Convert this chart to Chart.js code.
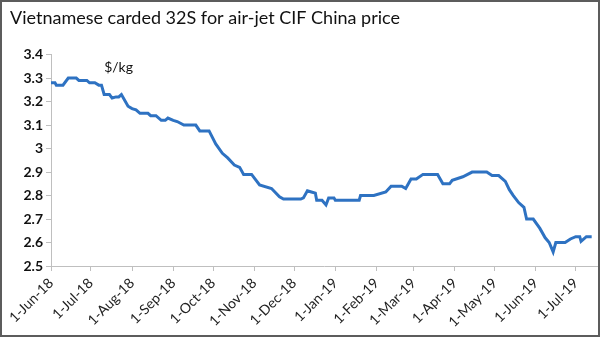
<!DOCTYPE html>
<html>
<head>
<meta charset="utf-8">
<script src="https://cdn.jsdelivr.net/npm/chart.js@4"></script>
<style>
  body { margin: 0; background: #fff; }
  #wrap { position: relative; width: 600px; height: 337px; }
  #frame { position: absolute; left: 0; top: 0; width: 600px; height: 337px; box-sizing: border-box; border: 2px solid #5c5c5c; pointer-events: none; }
</style>
</head>
<body>
<div id="wrap">
  <canvas id="chart" width="600" height="337"></canvas>
  <div id="frame"></div>
</div>
<script>
const chartTitle = 'Vietnamese carded 32S for air-jet CIF China price';
const unitLabel = '$/kg';

const priceDates = [
  '2018-06-01', '2018-06-04', '2018-06-05', '2018-06-10', '2018-06-14', '2018-06-20',
  '2018-06-22', '2018-06-28', '2018-06-30', '2018-07-04', '2018-07-07', '2018-07-09',
  '2018-07-11', '2018-07-15', '2018-07-17', '2018-07-20', '2018-07-22', '2018-07-24',
  '2018-07-29', '2018-08-01', '2018-08-04', '2018-08-07', '2018-08-13', '2018-08-15',
  '2018-08-19', '2018-08-23', '2018-08-26', '2018-08-28', '2018-09-01', '2018-09-04',
  '2018-09-09', '2018-09-18', '2018-09-21', '2018-09-28', '2018-10-03', '2018-10-08',
  '2018-10-12', '2018-10-17', '2018-10-21', '2018-10-24', '2018-10-30', '2018-11-05',
  '2018-11-14', '2018-11-20', '2018-11-23', '2018-12-06', '2018-12-08', '2018-12-11',
  '2018-12-14', '2018-12-17', '2018-12-18', '2018-12-22', '2018-12-25', '2018-12-27',
  '2018-12-31', '2019-01-01', '2019-01-19', '2019-01-20', '2019-01-30', '2019-02-08',
  '2019-02-12', '2019-02-20', '2019-02-23', '2019-02-27', '2019-03-03', '2019-03-08',
  '2019-03-19', '2019-03-23', '2019-03-28', '2019-03-30', '2019-04-07', '2019-04-14',
  '2019-04-25', '2019-04-29', '2019-05-04', '2019-05-09', '2019-05-12', '2019-05-15',
  '2019-05-19', '2019-05-23', '2019-05-25', '2019-05-30', '2019-06-04', '2019-06-08',
  '2019-06-11', '2019-06-14', '2019-06-16', '2019-06-23', '2019-06-27', '2019-07-01',
  '2019-07-04', '2019-07-05', '2019-07-09', '2019-07-13'
];
const prices = [
  3.28, 3.28, 3.27, 3.27, 3.30, 3.30,
  3.29, 3.29, 3.28, 3.28, 3.27, 3.27,
  3.23, 3.23, 3.215, 3.22, 3.22, 3.23,
  3.18, 3.17, 3.165, 3.15, 3.15, 3.14,
  3.14, 3.12, 3.12, 3.13, 3.12, 3.115,
  3.10, 3.10, 3.075, 3.075, 3.02, 2.98,
  2.96, 2.93, 2.92, 2.89, 2.89, 2.845,
  2.83, 2.795, 2.785, 2.785, 2.79, 2.82,
  2.815, 2.81, 2.78, 2.78, 2.76, 2.79,
  2.79, 2.78, 2.78, 2.80, 2.80, 2.815,
  2.84, 2.84, 2.83, 2.87, 2.87, 2.89,
  2.89, 2.85, 2.85, 2.865, 2.88, 2.90,
  2.90, 2.885, 2.885, 2.86, 2.825, 2.80,
  2.77, 2.75, 2.70, 2.70, 2.66, 2.62,
  2.60, 2.56, 2.60, 2.60, 2.615, 2.625,
  2.625, 2.605, 2.625, 2.625
];

const tickDates = [
  '2018-06-01', '2018-07-01', '2018-08-01', '2018-09-01', '2018-10-01', '2018-11-01', '2018-12-01',
  '2019-01-01', '2019-02-01', '2019-03-01', '2019-04-01', '2019-05-01', '2019-06-01', '2019-07-01'
];
const tickLabels = [
  '1-Jun-18', '1-Jul-18', '1-Aug-18', '1-Sep-18', '1-Oct-18', '1-Nov-18', '1-Dec-18',
  '1-Jan-19', '1-Feb-19', '1-Mar-19', '1-Apr-19', '1-May-19', '1-Jun-19', '1-Jul-19'
];
const axisEndDate = '2019-07-17';

// days since the first date, so a plain linear axis can do the date spacing
const dayMs = 24 * 3600 * 1000;
const startMs = Date.parse(priceDates[0]);
const toDay = d => Math.round((Date.parse(d) - startMs) / dayMs);

const points = priceDates.map((d, i) => ({ x: toDay(d), y: prices[i] }));
const tickDays = tickDates.map(toDay);

const axisColor = '#bfbfbf';
const fontFam = 'Lato, "Liberation Sans", sans-serif';

const unitText = {
  id: 'unitText',
  afterDatasetsDraw(chart) {
    const ctx = chart.ctx;
    const xs = chart.scales.x, ys = chart.scales.y;
    ctx.save();
    ctx.fillStyle = '#111';
    ctx.font = '14px ' + fontFam;
    ctx.textAlign = 'left';
    ctx.textBaseline = 'middle';
    ctx.fillText(unitLabel, xs.getPixelForValue(40), ys.getPixelForValue(3.345));
    ctx.restore();
  }
};

new Chart(document.getElementById('chart'), {
  type: 'line',
  data: {
    datasets: [{
      data: points,
      borderColor: '#2e72c2',
      borderWidth: 3,
      pointRadius: 0,
      tension: 0,
      fill: false
    }]
  },
  options: {
    responsive: false,
    animation: false,
    layout: { padding: { left: 10, right: 3, top: 0, bottom: 2 } },
    plugins: {
      legend: { display: false },
      tooltip: { enabled: false },
      title: {
        display: true,
        text: chartTitle,
        align: 'start',
        color: '#111',
        font: { family: fontFam, size: 18, weight: 'normal' },
        padding: { top: 7, bottom: 26 }
      }
    },
    scales: {
      x: {
        type: 'linear',
        min: 0,
        max: toDay(axisEndDate),
        afterBuildTicks: axis => { axis.ticks = tickDays.map(v => ({ value: v })); },
        afterFit: scale => { scale.height = 69; },
        grid: { drawOnChartArea: false, drawTicks: true, tickLength: 5, color: axisColor },
        border: { color: axisColor },
        ticks: {
          autoSkip: false,
          maxRotation: 45,
          minRotation: 45,
          padding: 4,
          color: '#222',
          font: { family: fontFam, size: 14 },
          callback: (v, i) => tickLabels[i]
        }
      },
      y: {
        min: 2.5,
        max: 3.4,
        afterFit: scale => { scale.width = 41; },
        grid: { drawOnChartArea: false, drawTicks: true, tickLength: 5, color: axisColor },
        border: { color: axisColor },
        ticks: {
          stepSize: 0.1,
          padding: 3,
          color: '#111',
          font: { family: fontFam, size: 14, weight: 'bold' },
          callback: v => String(Number(v.toFixed(1)))
        }
      }
    }
  },
  plugins: [unitText]
});
</script>
</body>
</html>
